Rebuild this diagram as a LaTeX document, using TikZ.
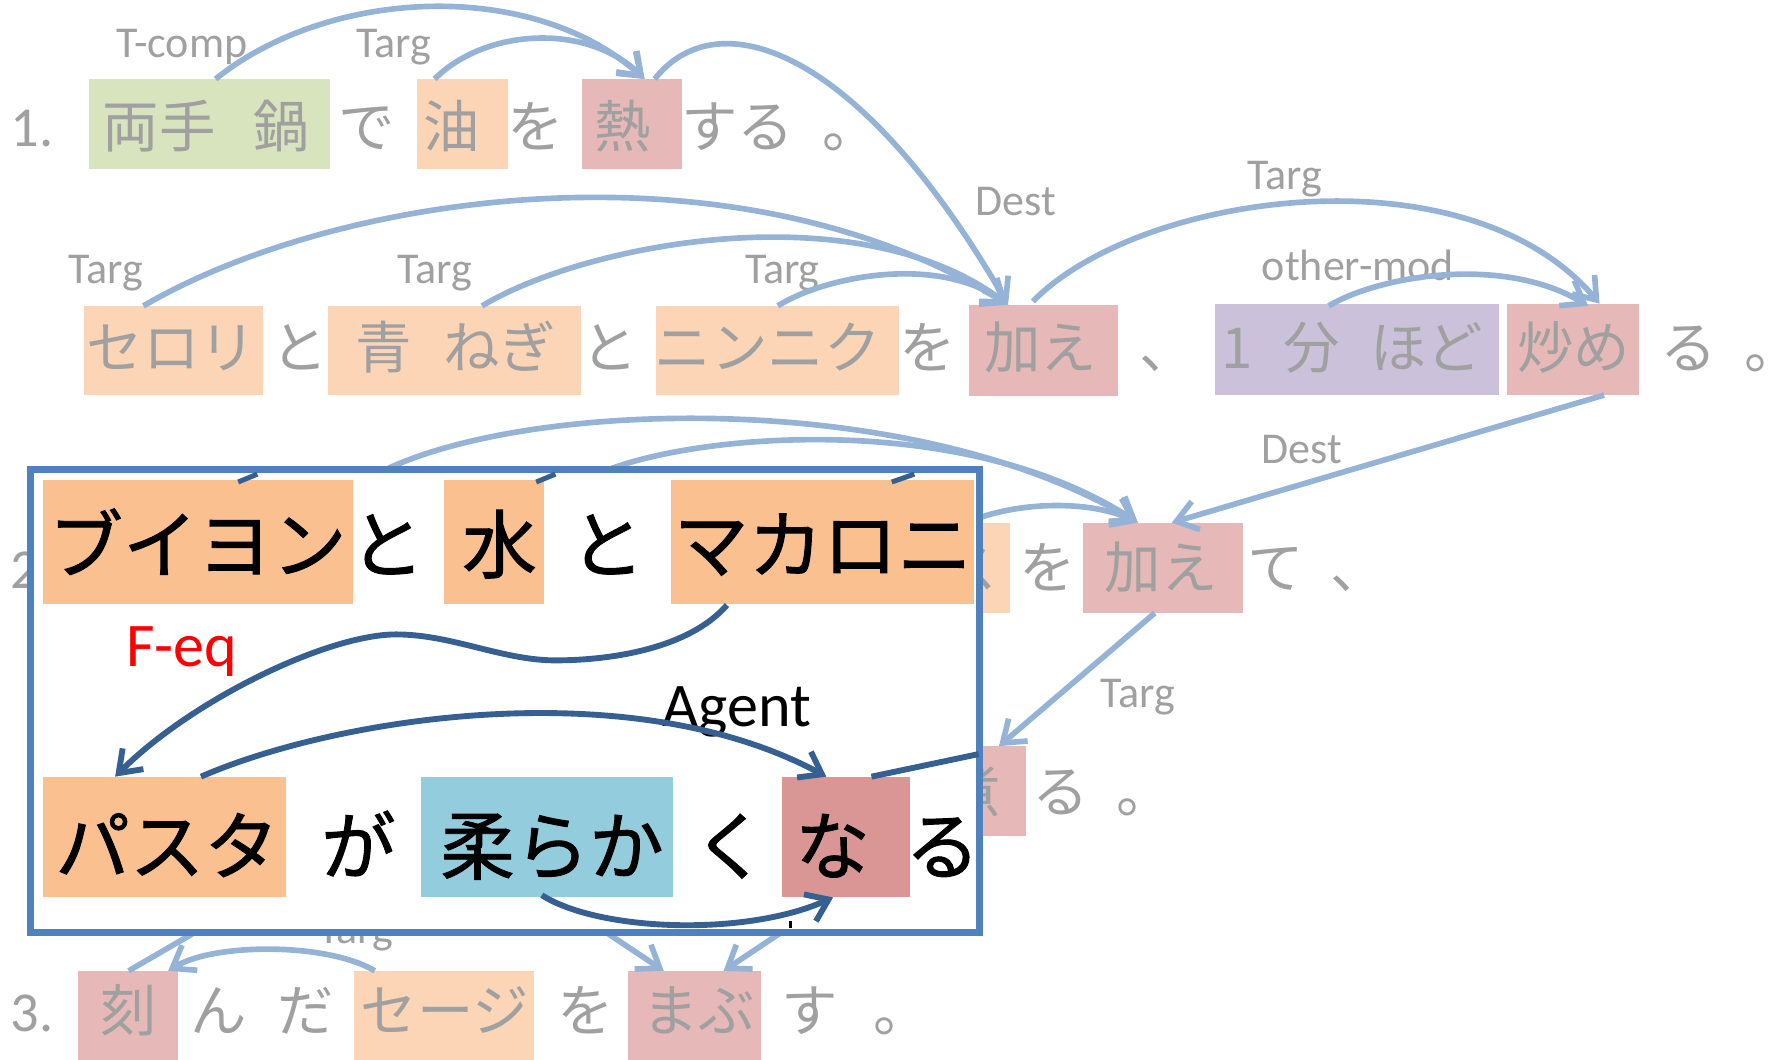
\documentclass[tikz,border=0pt]{standalone}
\usepackage{fontspec}
\setmainfont{Carlito}
\newfontfamily\jp{Noto Sans CJK JP}
\newfontfamily\jpk[FakeBold=1.2]{Noto Sans CJK JP}
\usetikzlibrary{arrows.meta,fit,calc}
\definecolor{tgray}{RGB}{160,160,160}
\definecolor{lor}{RGB}{251,213,181}
\definecolor{lgr}{RGB}{215,228,189}
\definecolor{lrd}{RGB}{230,185,184}
\definecolor{lpu}{RGB}{204,193,218}
\definecolor{arcb}{RGB}{149,179,215}
\definecolor{dor}{RGB}{250,192,144}
\definecolor{lbl}{RGB}{147,205,221}
\definecolor{drd}{RGB}{217,150,148}
\definecolor{frm}{RGB}{79,129,189}
\definecolor{dkb}{RGB}{55,96,146}
\begin{document}
\begin{tikzpicture}[x=0.5pt,y=-0.5pt,
  cell/.style={inner sep=0pt, outer sep=0pt, draw=none},
  gt/.style={font=\jp\fontsize{25}{25}\selectfont, text=tgray, anchor=base, inner sep=0pt},
  gw/.style={gt, anchor=base west},
  num/.style={font=\fontsize{25}{25}\selectfont, text=tgray, anchor=base west, inner sep=0pt},
  bt/.style={font=\jpk\fontsize{33}{33}\selectfont, text=black, anchor=base, inner sep=0pt},
  lab/.style={font=\fontsize{19.5}{19.5}\selectfont, text=tgray, anchor=base, inner sep=0pt},
  blab/.style={font=\fontsize{27.5}{27.5}\selectfont, anchor=base, inner sep=0pt},
  lnk/.style={draw=arcb, line width=2.5pt},
  arr/.style={lnk, -{Straight Barb[length=9pt,width=13pt]}},
  dk/.style={draw=dkb, line width=2.6pt},
  dka/.style={dk, -{Straight Barb[length=9pt,width=13pt]}}]
\useasboundingbox (0,0) rectangle (1568,939);

% ---------- background cells ----------
\node[cell, fill=lgr, fit={(79,70) (292,150)}] (pot) {};
\node[cell, fill=lor, fit={(369,70) (450,150)}] (oil) {};
\node[cell, fill=lrd, fit={(516,70) (604,150)}] (heat) {};
\node[cell, fill=lor, fit={(74,271) (233,350)}] (celery) {};
\node[cell, fill=lor, fit={(291,271) (515,350)}] (negi) {};
\node[cell, fill=lor, fit={(581,271) (796,350)}] (garlic) {};
\node[cell, fill=lrd, fit={(858,270) (990,351)}] (addA) {};
\node[cell, fill=lpu, fit={(1076,269) (1328,350)}] (minute) {};
\node[cell, fill=lrd, fit={(1335,269) (1452,350)}] (fry) {};
\node[cell, fill=lor, fit={(800,463) (895,543)}] (hid) {};
\node[cell, fill=lrd, fit={(959,463) (1101,543)}] (addB) {};
\node[cell, fill=lrd, fit={(800,661) (909,741)}] (boil) {};
\node[cell, fill=lrd, fit={(69,860) (158,939)}] (chop) {};
\node[cell, fill=lor, fit={(314,860) (473,939)}] (sage) {};
\node[cell, fill=lrd, fit={(556,860) (674,939)}] (mabu) {};

% ---------- background text ----------
\node[num] (n1) at (9,130) {1.};
\node[gt] (a1) at (141,131) {両手};
\node[gt] (a2) at (249.5,131) {鍋};
\node[gt] (a3) at (325,131) {で};
\node[gt] (a4) at (400.5,131) {油};
\node[gt] (a5) at (475,131) {を};
\node[gt] (a6) at (551.5,131) {熱};
\node[gt] (a7) at (653.5,131) {する};
\node[gw] (a8) at (728,131) {。};

\node[gt] (b1) at (152,326) {セロリ};
\node[gt] (b2) at (265.5,326) {と};
\node[gt] (b3) at (339.5,326) {青};
\node[gt] (b4) at (442.5,326) {ねぎ};
\node[gt] (b5) at (540.5,326) {と};
\node[gt] (b6) at (680,326) {ニンニク};
\node[gt] (b7) at (822,326) {を};
\node[gt] (b8) at (922,326) {加え};
\node[gw] (b9) at (1009,326) {、};
\node[gt] (b10) at (1096,326) {1};
\node[gt] (b11) at (1162,326) {分};
\node[gt] (b12) at (1264,326) {ほど};
\node[gt] (b13) at (1394,326) {炒め};
\node[gt] (b14) at (1496,326) {る};
\node[gw] (b15) at (1545,326) {。};

\node[num] (n2) at (9,521) {2.};
\node[gt] (c1) at (858,521) {ス};
\node[gt] (c2) at (928,521) {を};
\node[gt] (c3) at (1028.5,521) {加え};
\node[gt] (c4) at (1130.5,521) {て};
\node[gw] (c5) at (1178,521) {、};

\node[gt] (d1) at (862,720) {煮};
\node[gt] (d2) at (939.5,720) {る};
\node[gw] (d3) at (989,720) {。};

\node[num] (n3) at (9,914) {3.};
\node[gt] (e1) at (114,914) {刻};
\node[gt] (e2) at (193.5,914) {ん};
\node[gt] (e3) at (271,914) {だ};
\node[gt] (e4) at (394,914) {セージ};
\node[gt] (e5) at (518.5,914) {を};
\node[gt] (e6) at (619,914) {まぶ};
\node[gt] (e7) at (717.5,914) {す};
\node[gw] (e8) at (773,914) {。};

% ---------- labels ----------
\node[lab] (l1) at (161,51) {T-comp};
\node[lab] (l2) at (348.5,51) {Targ};
\node[lab] (l3) at (94,251) {Targ};
\node[lab] (l4) at (385,251) {Targ};
\node[lab] (l5) at (693,251) {Targ};
\node[lab] (l6) at (900,191) {Dest};
\node[lab] (l7) at (1138,168) {Targ};
\node[lab] (l8) at (1203,248.5) {other-mod};
\node[lab] (l9) at (1153,411) {Dest};
\node[lab] (l10) at (1008,627) {Targ};
\node[lab] (l11) at (315,836) {Targ};

% ---------- light connectors ----------
\draw[arr] ($(pot.north west)+(112,0)$) .. controls (290,-10) and (470,-20) .. ($(heat.north west)+(55,0)$);
\draw[arr] ($(oil.north west)+(16,0)$) .. controls (430,25) and (520,20) .. ($(heat.north west)+(55,0)$);
\draw[arr] ($(heat.north west)+(64,0)$) .. controls (635,0) and (760,40) .. ($(addA.north west)+(35,0)$);

\draw[arr] ($(celery.north west)+(53,0)$) .. controls (300,170) and (650,120) .. ($(addA.north west)+(35,0)$);
\draw[arr] ($(negi.north west)+(136,0)$) .. controls (520,215) and (760,170) .. ($(addA.north west)+(35,0)$);
\draw[arr] ($(garlic.north west)+(108,0)$) .. controls (730,245) and (830,225) .. ($(addA.north west)+(35,0)$);
\draw[arr] ($(addA.north west)+(57,-3)$) .. controls (1010,170) and (1300,130) .. ($(fry.north west)+(82,0)$);
\draw[arr] ($(minute.north west)+(101,2)$) .. controls (1220,245) and (1330,225) .. ($(fry.north west)+(72,2)$);
\draw[arr] ($(fry.south west)+(86,0)$) -- ($(addB.north west)+(79,0)$);

\coordinate (h1) at (330,422);
\coordinate (h2) at (525,422);
\coordinate (h3) at (840,472);
\coordinate (h4) at (176,824);
\coordinate (h5) at (534,824);
\coordinate (h6) at (695,824);
\draw[arr] (h1) .. controls (450,355) and (800,340) .. ($(addB.north west)+(49,0)$);
\draw[arr] (h2) .. controls (600,385) and (850,360) .. ($(addB.north west)+(49,0)$);
\draw[arr] (h3) .. controls (880,445) and (960,440) .. ($(addB.north west)+(49,0)$);
\draw[arr] ($(addB.south west)+(64,0)$) -- ($(boil.north west)+(85,0)$);

\draw[lnk] (h4) -- ($(chop.north west)+(45,0)$);
\draw[arr] ($(sage.north west)+(18,0)$) .. controls (290,835) and (190,835) .. ($(chop.north west)+(80,0)$);
\draw[arr] (h5) -- ($(mabu.north west)+(32,0)$);
\draw[arr] (h6) -- ($(mabu.north west)+(85,0)$);

% ---------- overlay ----------
\node[cell, fill=white, draw=frm, line width=3pt, fit={(27,416) (868,826)}] (frame) {};
\node[cell, fill=dor, fit={(38,425) (313,535)}] (bouillon) {};
\node[cell, fill=dor, fit={(393,425) (482,535)}] (water) {};
\node[cell, fill=dor, fit={(594,425) (863,535)}] (macaroni) {};
\node[cell, fill=dor, fit={(38,688) (253,795)}] (pasta) {};
\node[cell, fill=lbl, fit={(373,688) (596,795)}] (soft) {};
\node[cell, fill=drd, fit={(693,688) (806,795)}] (na) {};

\node[bt] (f1) at (175,507) {ブイヨン};
\node[bt] (f2) at (343,507) {と};
\node[bt] (f3) at (442.5,507) {水};
\node[bt] (f4) at (538,507) {と};
\node[bt] (f5) at (729,507) {マカロニ};
\node[bt] (g1) at (148,774) {パスタ};
\node[bt] (g2) at (317.5,774) {が};
\node[bt] (g3) at (489,774) {柔らか};
\node[bt] (g4) at (647,774) {く};
\node[bt] (g5) at (737.5,774) {な};
\node[bt] (g6) at (835,774) {る};

\node[blab, text=red] (feq) at (161,590) {F-eq};
\node[blab, text=black] (agent) at (653,643.5) {Agent};

\draw[dka] ($(macaroni.south west)+(50,1)$) .. controls (610,575) and (540,585) .. (492,585)
  .. controls (445,585) and (400,562) .. (351,562)
  .. controls (290,562) and (170,620) .. ($(pasta.north west)+(64,0)$);
\draw[dka] ($(pasta.north west)+(140,0)$) .. controls (300,635) and (560,595) .. ($(na.north west)+(39,0)$);
\draw[dka] ($(soft.south west)+(107,-2)$) .. controls (530,825) and (660,830) .. ($(na.south west)+(45,0)$);
\draw[dk] ($(na.north west)+(79,0)$) -- ($(frame.north east)+(-1,252)$);

\draw[dk, line width=2.2pt] (228,420) -- (211,427);
\draw[dk, line width=2.2pt] (492,420) -- (475,427);
\draw[dk, line width=2.2pt] (810,420) -- (790,427);
\draw[black, line width=1.2pt] (700,816) -- (700,822);
\end{tikzpicture}
\end{document}
